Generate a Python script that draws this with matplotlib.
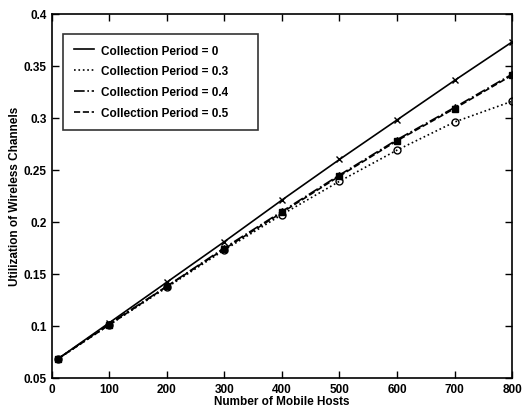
import matplotlib.pyplot as plt

hosts = [10, 100, 200, 300, 400, 500, 600, 700, 800]
period_0 = [0.068, 0.103, 0.142, 0.181, 0.221, 0.260, 0.298, 0.336, 0.373]
period_03 = [0.068, 0.101, 0.137, 0.173, 0.207, 0.239, 0.269, 0.296, 0.316]
period_04 = [0.068, 0.102, 0.138, 0.175, 0.210, 0.245, 0.279, 0.310, 0.342]
period_05 = [0.068, 0.101, 0.138, 0.174, 0.209, 0.244, 0.278, 0.309, 0.341]
labels = ['Collection Period = 0', 'Collection Period = 0.3',
          'Collection Period = 0.4', 'Collection Period = 0.5']

plt.rcParams['font.family'] = ['Liberation Sans', 'DejaVu Sans']
plt.rcParams['font.weight'] = 'bold'
plt.rcParams['axes.labelweight'] = 'bold'

fig = plt.figure(figsize=(5.29, 4.14), dpi=100)
ax = fig.add_axes([0.098, 0.085, 0.87, 0.879])

series = [period_0, period_03, period_04, period_05]
styles = ['-', ':', '-.', '--']
markers = ['x', 'o', '*', 's']
for vals, ls, mk, lab in zip(series, styles, markers, labels):
    ax.plot(hosts, vals, color='black', linestyle=ls, linewidth=1.2, label=lab)
    ax.plot(hosts, vals, color='black', linestyle='none', marker=mk,
            markersize=5, markerfacecolor='none' if mk == 'o' else 'black',
            markeredgewidth=1.0)

ax.set_xlim(0, 800)
ax.set_ylim(0.05, 0.4)
ax.set_xticks(range(0, 801, 100))
ax.set_yticks([0.05, 0.1, 0.15, 0.2, 0.25, 0.3, 0.35, 0.4])
ax.set_yticklabels(['0.05', '0.1', '0.15', '0.2', '0.25', '0.3', '0.35', '0.4'])
ax.tick_params(direction='in', top=True, right=True, labelsize=8.5, length=5, width=1)
for s in ax.spines.values():
    s.set_linewidth(1.2)
ax.set_xlabel('Number of Mobile Hosts', fontsize=8.5, labelpad=0)
ax.set_ylabel('Utilization of Wireless Channels', fontsize=8.5, labelpad=2)

leg = ax.legend(loc='upper left', bbox_to_anchor=(0.024, 0.945, 0.424, 0.0),
                mode='expand', borderaxespad=0, fontsize=8.5, frameon=True,
                fancybox=False, edgecolor='black', handlelength=1.7,
                handletextpad=0.6, labelspacing=0.75, borderpad=0.9)
leg.get_frame().set_linewidth(1.2)

plt.savefig('out.png', dpi=100)
